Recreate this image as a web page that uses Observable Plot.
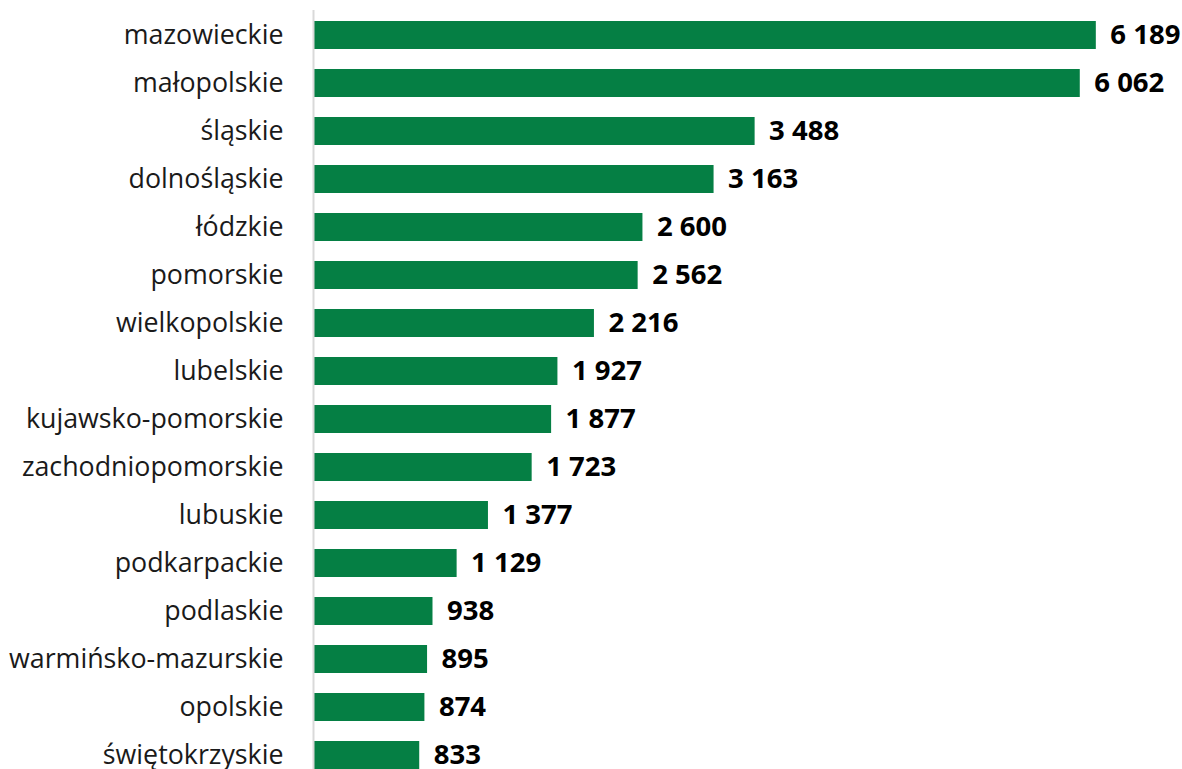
<!DOCTYPE html>
<html>
<head>
<meta charset="utf-8">
<script src="https://cdn.jsdelivr.net/npm/d3@7"></script>
<script src="https://cdn.jsdelivr.net/npm/@observablehq/plot@0.6"></script>
<style>
  html, body { margin: 0; padding: 0; background: #fff; overflow: hidden; }
  #chart svg { display: block; }
</style>
</head>
<body>
<div id="chart"></div>
<script>
const regions = [
  "mazowieckie", "małopolskie", "śląskie", "dolnośląskie", "łódzkie",
  "pomorskie", "wielkopolskie", "lubelskie", "kujawsko-pomorskie",
  "zachodniopomorskie", "lubuskie", "podkarpackie", "podlaskie",
  "warmińsko-mazurskie", "opolskie", "świętokrzyskie"
];
const values = [6189, 6062, 3488, 3163, 2600, 2562, 2216, 1927, 1877, 1723, 1377, 1129, 938, 895, 874, 833];

const data = regions.map((r, i) => ({region: r, value: values[i]}));
const fmt = v => d3.format(",")(v).replace(/,/g, "\u00a0");

const chart = Plot.plot({
  width: 1182,
  height: 789,
  marginLeft: 314,
  marginRight: 9,
  marginTop: 1,
  marginBottom: 0,
  style: {fontFamily: "'Open Sans', sans-serif", background: "#fff"},
  x: {domain: [0, 6800], axis: null},
  y: {domain: regions, padding: 0.41, label: null},
  marks: [
    Plot.barX(data, {x: "value", y: "region", fill: "#057F44"}),
    Plot.ruleX([0], {stroke: "#d9d9d9", strokeWidth: 2, insetTop: 9, dx: -1}),
    Plot.axisY({tickSize: 0, tickPadding: 31, fontSize: 26.8, fill: "#1a1a1a", label: null}),
    Plot.text(data, {x: "value", y: "region", text: d => fmt(d.value), dx: 14, textAnchor: "start", fontSize: 27.5, fontWeight: "bold", fill: "#000"})
  ]
});
document.getElementById("chart").append(chart);
</script>
</body>
</html>
